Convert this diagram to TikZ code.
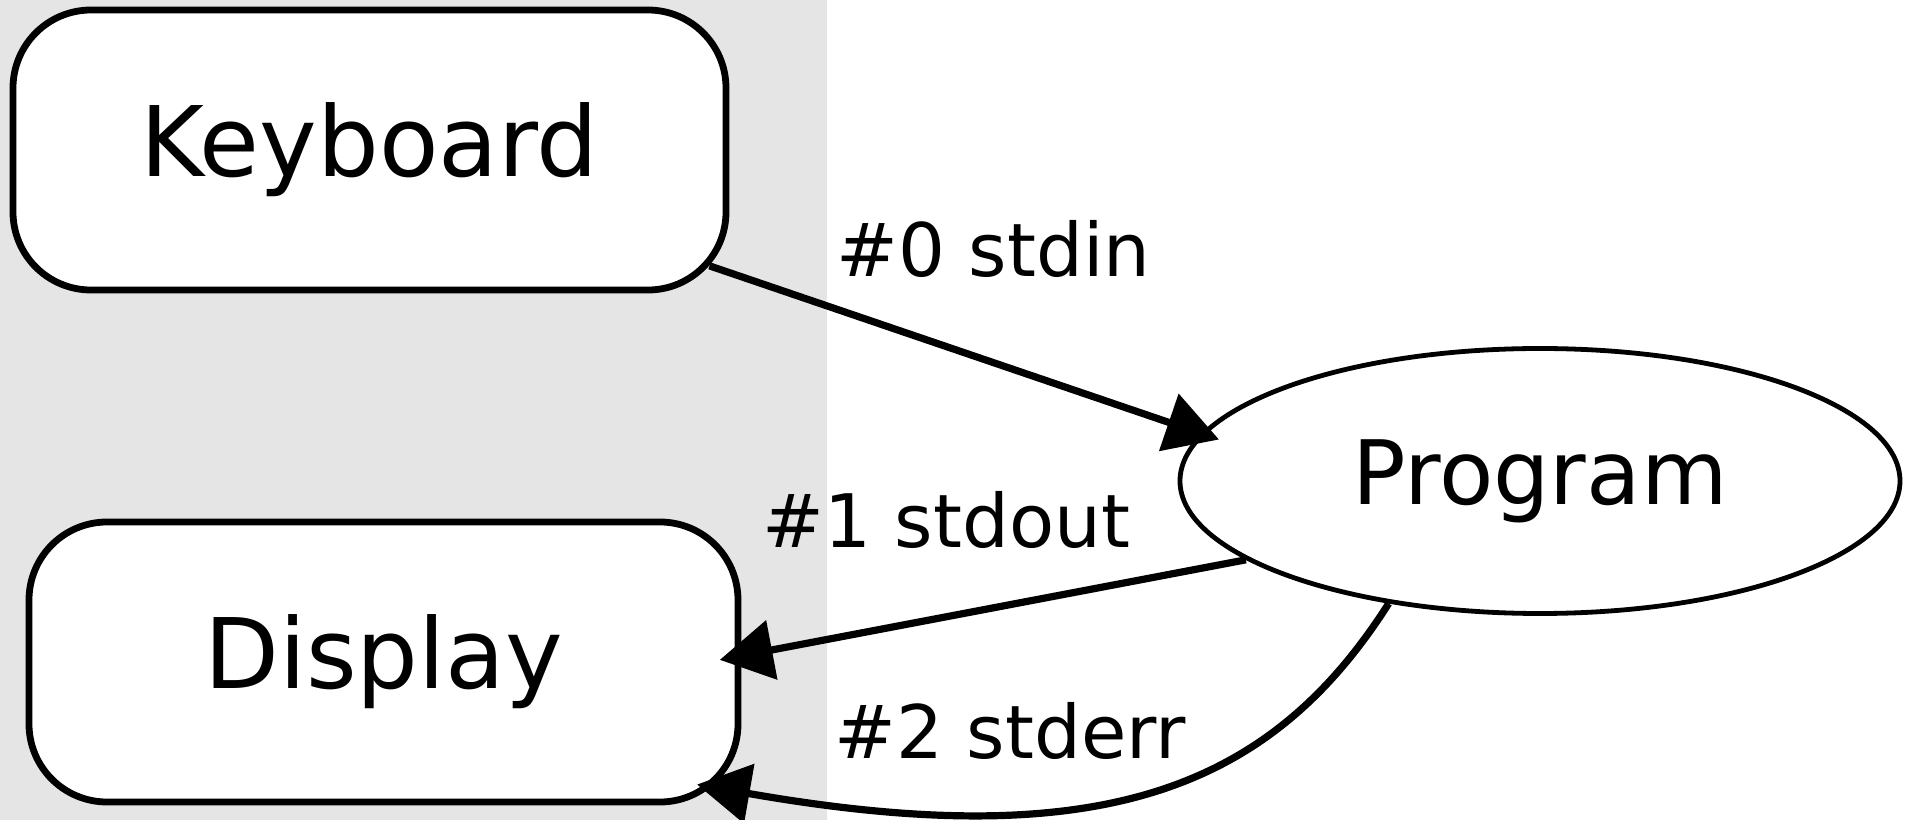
\documentclass[tikz,border=0pt]{standalone}
\usepackage{fontspec}
\setmainfont{DejaVu Sans}
\usetikzlibrary{shapes.geometric,arrows.meta}
\definecolor{bggray}{RGB}{229,229,229}

\begin{document}
\begin{tikzpicture}[
    box/.style={draw, fill=white, line width=0.068cm, rounded corners=0.78cm,
      minimum width=7.13cm, minimum height=2.80cm, font=\fontsize{27.7}{33}\selectfont},
    prog/.style={ellipse, draw, line width=0.048cm, inner sep=0pt,
      minimum width=7.20cm, minimum height=2.65cm, font=\fontsize{25.3}{30}\selectfont},
    lbl/.style={anchor=base west, inner sep=0pt, font=\fontsize{21}{25}\selectfont},
    edge/.style={line width=0.072cm, -{Triangle[length=0.53cm, width=0.59cm]}}]
    \useasboundingbox (0, 0) rectangle (19.21, -8.20);
    \fill[white] (0, 0) rectangle (19.21, -8.20);
    \fill[bggray] (0, 0) rectangle (8.27, -8.20);

    \node[box] (keyboard) at (3.695, -1.50) {Keyboard};
    \node[box, minimum width=7.09cm] (display) at (3.835, -6.62) {Display};
    \node[prog] (program) at (15.40, -4.81) {Program};

    \foreach \n/\x/\y/\k in {stdin/8.36/-2.77/0, stdout/7.62/-5.48/1, stderr/8.34/-7.59/2}
      \node[lbl] (\n lbl) at (\x,\y) {\#\k{} \n};

    \draw[edge, shorten <=-0.21cm, shorten >=-0.19cm] (keyboard) -- (program.172);
    \draw[edge, shorten >=-0.22cm] (program.195) -- (display.1.2);
    \draw[edge, shorten >=-0.45cm] (program.-141) .. controls (12.70, -7.90) and (11.00, -8.55) .. (display.-20);
\end{tikzpicture}
\end{document}
